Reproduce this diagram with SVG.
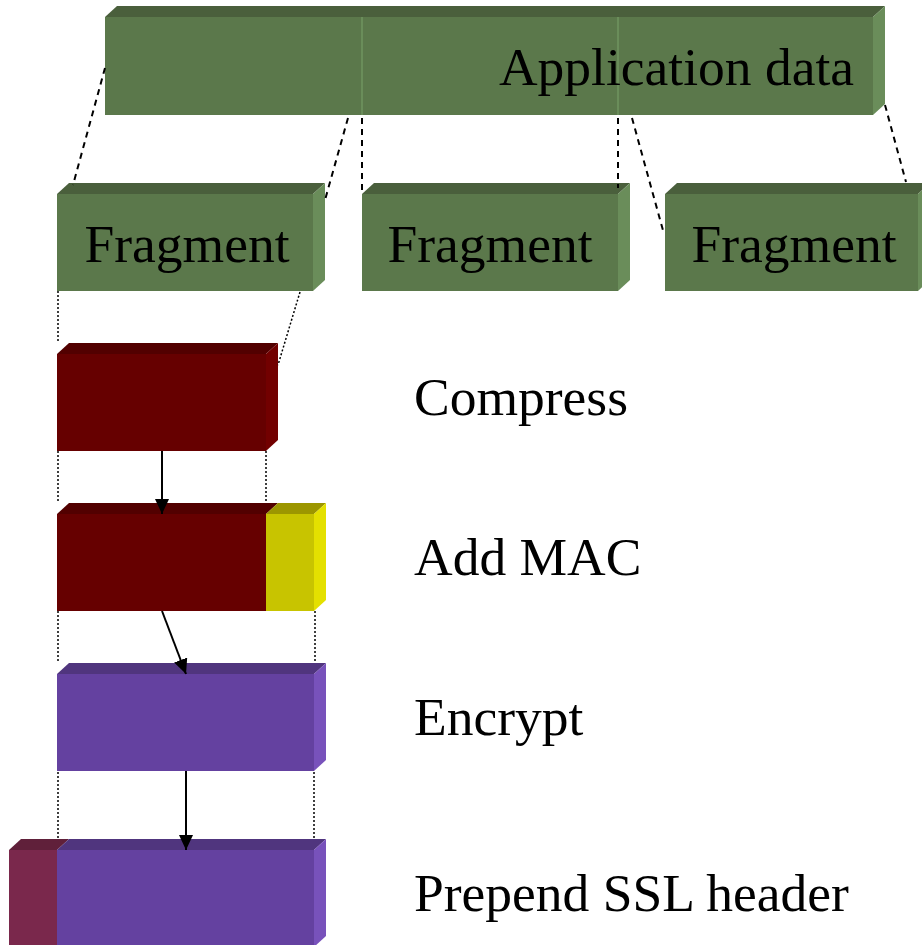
<svg xmlns="http://www.w3.org/2000/svg" width="922" height="945" viewBox="0 0 922 945">
<defs>
<style>
text{font-family:"Liberation Serif","Times New Roman",serif;fill:#000;}
.lbl{font-size:53.5px;}
.gf{fill:#5b784b;}.gt{fill:#4a5f3c;}.gs{fill:#6a8d5a;}
.rf{fill:#660000;}.rt{fill:#520000;}.rs{fill:#720000;}
.yf{fill:#c8c400;}.yt{fill:#9c9600;}.ys{fill:#e4e000;}
.pf{fill:#6441a0;}.pt{fill:#50357e;}.ps{fill:#7852bb;}
.hf{fill:#7a284c;}.ht{fill:#60203a;}
.dash{stroke:#000;stroke-width:2;stroke-dasharray:6 5;fill:none;}
.dot{stroke:#000;stroke-width:1.5;stroke-dasharray:2 2;fill:none;}
.arr{stroke:#000;stroke-width:2;fill:none;marker-end:url(#ah);}
</style>
<marker id="ah" viewBox="0 0 15 14" refX="15" refY="7" markerWidth="15" markerHeight="14" markerUnits="userSpaceOnUse" orient="auto">
<path d="M0,0 L15,7 L0,14 Z" fill="#000"/>
</marker>
</defs>
<rect width="922" height="945" fill="#fff"/>

<g id="app-data">
<polygon class="gt" points="105,17 117,6 885,6 873,17"/>
<polygon class="gs" points="873,17 885,6 885,104 873,115"/>
<rect class="gf" x="105" y="17" width="768" height="98"/>
<line x1="362" y1="17" x2="362" y2="115" stroke="#6a8d5a" stroke-width="2"/>
<line x1="618" y1="17" x2="618" y2="115" stroke="#6a8d5a" stroke-width="2"/>
<text class="lbl" x="854" y="85" text-anchor="end">Application data</text>
</g>

<g id="fragment1">
<polygon class="gt" points="57,194 69,183 325,183 313,194"/>
<polygon class="gs" points="313,194 325,183 325,280 313,291"/>
<rect class="gf" x="57" y="194" width="256" height="97"/>
<text class="lbl" x="187" y="262" text-anchor="middle">Fragment</text>
</g>
<g id="fragment2">
<polygon class="gt" points="362,194 374,183 630,183 618,194"/>
<polygon class="gs" points="618,194 630,183 630,280 618,291"/>
<rect class="gf" x="362" y="194" width="256" height="97"/>
<text class="lbl" x="490" y="262" text-anchor="middle">Fragment</text>
</g>
<g id="fragment3">
<polygon class="gt" points="665,194 677,183 930,183 918,194"/>
<polygon class="gs" points="918,194 930,183 930,280 918,291"/>
<rect class="gf" x="665" y="194" width="253" height="97"/>
<text class="lbl" x="794" y="262" text-anchor="middle">Fragment</text>
</g>

<g id="compress-block">
<polygon class="rt" points="57,354 69,343 278,343 266,354"/>
<polygon class="rs" points="266,354 278,343 278,440 266,451"/>
<rect class="rf" x="57" y="354" width="209" height="97"/>
</g>

<g id="mac-block">
<polygon class="rt" points="57,514 69,503 278,503 266,514"/>
<polygon class="yt" points="266,514 278,503 326,503 314,514"/>
<polygon class="ys" points="314,514 326,503 326,600 314,611"/>
<rect class="rf" x="57" y="514" width="209" height="97"/>
<rect class="yf" x="266" y="514" width="48" height="97"/>
</g>

<g id="encrypt-block">
<polygon class="pt" points="57,674 69,663 326,663 314,674"/>
<polygon class="ps" points="314,674 326,663 326,760 314,771"/>
<rect class="pf" x="57" y="674" width="257" height="97"/>
</g>

<g id="ssl-block">
<polygon class="ht" points="9,850 21,839 69,839 57,850"/>
<polygon class="pt" points="57,850 69,839 326,839 314,850"/>
<polygon class="ps" points="314,850 326,839 326,936 314,947"/>
<rect class="hf" x="9" y="850" width="48" height="97"/>
<rect class="pf" x="57" y="850" width="257" height="97"/>
</g>

<g id="labels">
<text class="lbl" x="414" y="415">Compress</text>
<text class="lbl" x="414" y="575">Add MAC</text>
<text class="lbl" x="414" y="735">Encrypt</text>
<text class="lbl" x="414" y="911">Prepend SSL header</text>
</g>

<g id="connectors">
<line class="dash" x1="105" y1="68" x2="73" y2="185"/>
<line class="dash" x1="348" y1="118" x2="325" y2="200"/>
<line class="dash" x1="362" y1="118" x2="362" y2="193"/>
<line class="dash" x1="618" y1="118" x2="618" y2="188"/>
<line class="dash" x1="632" y1="118" x2="664" y2="234"/>
<line class="dash" x1="885" y1="105" x2="906" y2="182"/>

<line class="dot" x1="58" y1="291" x2="58" y2="343"/>
<line class="dot" x1="300" y1="292" x2="278" y2="365"/>
<line class="dot" x1="58" y1="451" x2="58" y2="503"/>
<line class="dot" x1="266" y1="451" x2="266" y2="503"/>
<line class="dot" x1="58" y1="611" x2="58" y2="663"/>
<line class="dot" x1="315" y1="611" x2="315" y2="663"/>
<line class="dot" x1="58" y1="772" x2="58" y2="840"/>
<line class="dot" x1="314" y1="772" x2="314" y2="840"/>

<line class="arr" x1="162" y1="451" x2="162" y2="514"/>
<line class="arr" x1="162" y1="611" x2="186" y2="674"/>
<line class="arr" x1="186" y1="771" x2="186" y2="850"/>
</g>
</svg>
